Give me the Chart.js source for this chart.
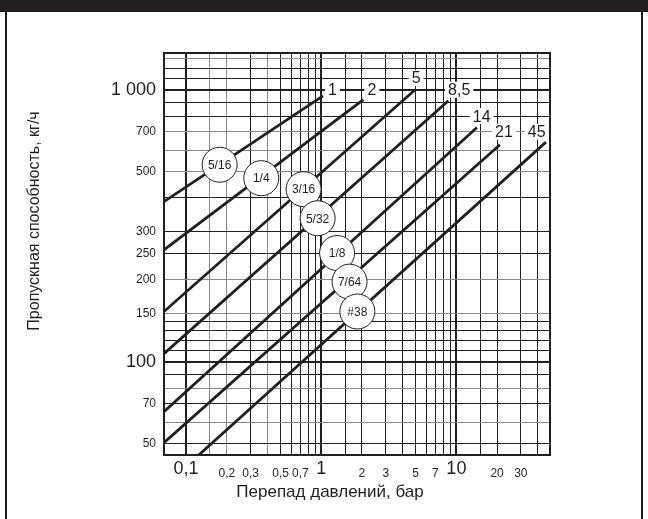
<!DOCTYPE html>
<html>
<head>
<meta charset="utf-8">
<script src="https://cdn.jsdelivr.net/npm/chart.js@4/dist/chart.umd.min.js"></script>
<style>
  html, body { margin: 0; padding: 0; background: #fff; }
  canvas { display: block; }
</style>
</head>
<body>
<canvas id="flowChart" width="648" height="519"></canvas>
<script>
// Сетка (значения линий) по осям
const xGrid = [0.1, 0.15, 0.2, 0.3, 0.4, 0.5, 0.6, 0.7, 0.8, 0.9, 1, 1.5, 2, 3, 4, 5, 6, 7, 8, 9, 10, 15, 20, 30, 40];
const yGrid = [50, 60, 70, 80, 90, 100, 110, 120, 130, 140, 150, 200, 250, 300, 400, 500, 600, 700, 800, 900, 1000, 1100, 1200, 1300];

// Подписи делений
const xTickValues = [0.1, 0.2, 0.3, 0.5, 0.7, 1, 2, 3, 5, 7, 10, 20, 30];
const xTickTexts = ['0,1', '0,2', '0,3', '0,5', '0,7', '1', '2', '3', '5', '7', '10', '20', '30'];
const yTickValues = [1000, 700, 500, 300, 250, 200, 150, 100, 70, 50];
const yTickTexts = ['1 000', '700', '500', '300', '250', '200', '150', '100', '70', '50'];
const bigTicks = [0.1, 1, 10, 100, 1000];
const grayX = [0.15, 0.2, 0.4];
const grayY = [1300, 700, 600, 500, 200, 150, 80, 60];

// Линии: начало и конец (перепад, бар / расход, кг/ч)
const seriesNames = ['1', '2', '5', '8,5', '14', '21', '45'];
const lineStartX = [0.0686, 0.0686, 0.0686, 0.0686, 0.0686, 0.0686, 0.124];
const lineStartY = [388, 258, 153, 107, 65.5, 50.4, 45.4];
const lineEndX = [1.03, 2.05, 4.95, 8.73, 14.2, 21.0, 46];
const lineEndY = [950, 919, 1000, 911, 727, 628, 642];

// Подписи на концах линий
const endLabelX = [1.21, 2.37, 5.04, 10.5, 15.4, 22.5, 39.3];
const endLabelY = [1000, 1000, 1104, 1000, 800, 700, 700];

// Кружки с размерами отверстий
const orifices = ['5/16', '1/4', '3/16', '5/32', '1/8', '7/64', '#38'];
const orificeX = [0.177, 0.36, 0.74, 0.94, 1.31, 1.62, 1.85];
const orificeY = [530, 473, 431, 337, 251, 197, 153];

const FONT = "'Liberation Sans', Arial, sans-serif";
const INK = '#231f20';

const datasets = [{
    label: 'orifices',
    type: 'scatter',
    order: 0,
    data: orificeX.map((x, i) => ({ x: x, y: orificeY[i] })),
    pointRadius: 17.5,
    pointBackgroundColor: '#fff',
    pointBorderColor: INK,
    pointBorderWidth: 1,
    showLine: false
}];
seriesNames.forEach((name, i) => {
    datasets.push({
        label: name,
        order: 1,
        data: [{ x: lineStartX[i], y: lineStartY[i] }, { x: lineEndX[i], y: lineEndY[i] }],
        borderColor: INK,
        borderWidth: 2.8,
        pointRadius: 0,
        fill: false
    });
});

const decor = {
    id: 'decor',
    beforeDraw(chart) {
        const c = chart.ctx;
        c.save();
        c.fillStyle = '#fff';
        c.fillRect(0, 0, chart.width, chart.height);
        c.restore();
    },
    afterDatasetsDraw(chart) {
        const c = chart.ctx;
        const xs = chart.scales.x, ys = chart.scales.y;
        c.save();
        c.fillStyle = INK;
        c.textAlign = 'center';
        c.textBaseline = 'middle';
        c.font = '12px ' + FONT;
        orifices.forEach((t, i) => {
            c.fillText(t, xs.getPixelForValue(orificeX[i]), ys.getPixelForValue(orificeY[i]) + 1);
        });
        c.font = '16px ' + FONT;
        seriesNames.forEach((t, i) => {
            const px = xs.getPixelForValue(endLabelX[i]);
            const py = ys.getPixelForValue(endLabelY[i]);
            const w = c.measureText(t).width + 6;
            c.fillStyle = '#fff';
            c.fillRect(px - w / 2, py - 8, w, 16);
            c.fillStyle = INK;
            c.fillText(t, px, py + 1);
        });
        c.restore();
    },
    afterDraw(chart) {
        const c = chart.ctx;
        const a = chart.chartArea;
        c.save();
        // рамка графика
        c.strokeStyle = INK;
        c.lineWidth = 2;
        c.strokeRect(a.left, a.top, a.right - a.left, a.bottom - a.top);
        // верхняя полоса и боковые линии
        c.fillStyle = INK;
        c.fillRect(0, 0, chart.width, 12);
        c.fillRect(5, 12, 2, chart.height - 12);
        c.fillRect(641, 12, 2, chart.height - 12);
        // подписи осей
        c.textAlign = 'center';
        c.textBaseline = 'middle';
        c.font = '17px ' + FONT;
        c.fillText('Перепад давлений, бар', 330, 492);
        c.translate(35, 221);
        c.rotate(-Math.PI / 2);
        c.font = '16px ' + FONT;
        c.fillText('Пропускная способность, кг/ч', 0, 0);
        c.restore();
    }
};

function tickText(values, texts, v) {
    const i = values.findIndex(t => Math.abs(t - v) < 1e-9 * Math.max(1, t));
    return i >= 0 ? texts[i] : '';
}
function isIn(list, v) {
    return list.some(t => Math.abs(t - v) < 1e-9 * Math.max(1, t));
}

const ctx = document.getElementById('flowChart').getContext('2d');
const myChart = new Chart(ctx, {
    type: 'line',
    data: { datasets: datasets },
    options: {
        responsive: false,
        animation: false,
        devicePixelRatio: 1,
        layout: { padding: { left: 0, top: 53, right: 98, bottom: 0 } },
        plugins: { legend: { display: false }, tooltip: { enabled: false } },
        scales: {
            x: {
                type: 'logarithmic',
                min: 0.0686,
                max: 49.3,
                bounds: 'data',
                afterBuildTicks: s => { s.ticks = xGrid.map(v => ({ value: v })); },
                afterFit: s => { s.height = 64; },
                border: { display: false },
                grid: {
                    drawTicks: false,
                    color: c => isIn(grayX, c.tick.value) ? '#8a8a8a' : INK,
                    lineWidth: c => isIn(bigTicks, c.tick.value) ? 2 : 1
                },
                ticks: {
                    autoSkip: false,
                    maxRotation: 0,
                    padding: 3,
                    color: INK,
                    font: c => isIn(bigTicks, c.tick.value)
                        ? { family: FONT, size: 18, lineHeight: 1.2 }
                        : { family: FONT, size: 12, lineHeight: 2.6 },
                    callback: v => tickText(xTickValues, xTickTexts, v)
                }
            },
            y: {
                type: 'logarithmic',
                min: 45.4,
                max: 1365,
                bounds: 'data',
                afterBuildTicks: s => { s.ticks = yGrid.map(v => ({ value: v })); },
                afterFit: s => { s.width = 164; },
                border: { display: false },
                grid: {
                    drawTicks: false,
                    color: c => isIn(grayY, c.tick.value) ? '#8a8a8a' : INK,
                    lineWidth: c => isIn(bigTicks, c.tick.value) ? 2 : 1
                },
                ticks: {
                    autoSkip: false,
                    padding: 8,
                    color: INK,
                    font: c => isIn(bigTicks, c.tick.value)
                        ? { family: FONT, size: 18 }
                        : { family: FONT, size: 12 },
                    callback: v => tickText(yTickValues, yTickTexts, v)
                }
            }
        }
    },
    plugins: [decor]
});
</script>
</body>
</html>
